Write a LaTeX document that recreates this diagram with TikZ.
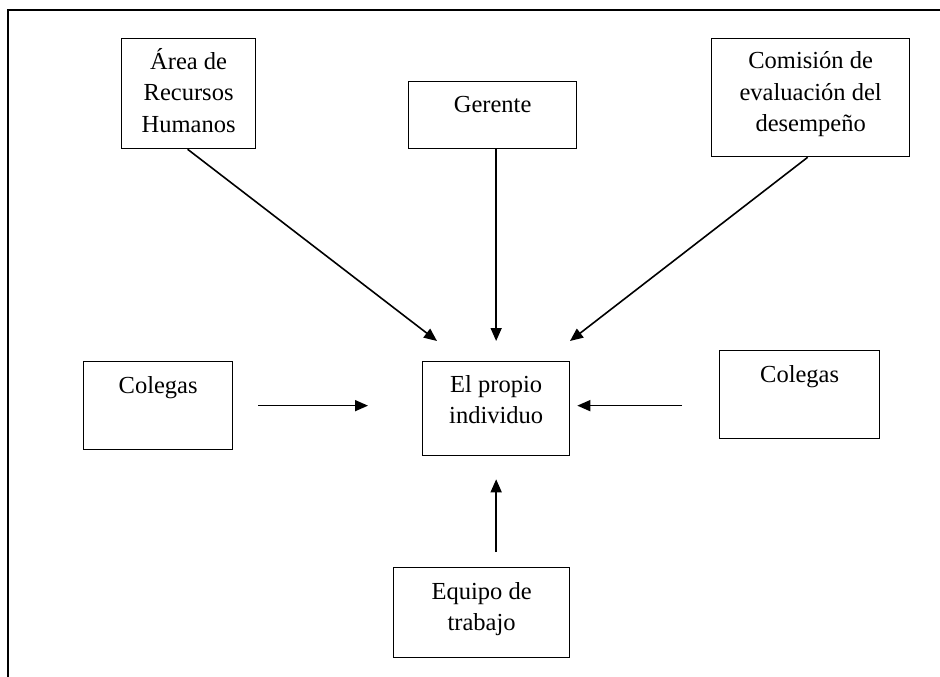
\documentclass[tikz,border=0pt]{standalone}
\usepackage{fontspec}
\setmainfont{Liberation Serif}
\usetikzlibrary{arrows.meta}
\newcommand{\boxtext}[2]{\parbox[t]{#1pt}{\centering\fontsize{24.5}{31.5}\selectfont #2}}
\begin{document}
\begin{tikzpicture}[x=1pt,y=-1pt,
  blk/.style={draw,line width=1.3pt,rectangle,inner sep=0pt,anchor=north west},
  lbl/.style={inner sep=0pt,anchor=base},
  arr/.style={line width=1.6pt,-{Triangle[length=13pt,width=11pt]}}]
\useasboundingbox (0,0) rectangle (940,677);
% outer frame: top and left sides
\draw[line width=1.4pt] (940,10) -- (8,10) -- (8,677);

% boxes (top-left corner, size)
\node[blk,minimum width=134pt,minimum height=110pt] (hr)   at (121,38)  {};
\node[blk,minimum width=168pt,minimum height=67pt]  (ger)  at (408,81)  {};
\node[blk,minimum width=198pt,minimum height=118pt] (com)  at (711,38)  {};
\node[blk,minimum width=147pt,minimum height=94pt]  (self) at (422,361) {};
\node[blk,minimum width=149pt,minimum height=88pt]  (colL) at (83,361)  {};
\node[blk,minimum width=160pt,minimum height=88pt]  (colR) at (719,350) {};
\node[blk,minimum width=176pt,minimum height=90pt]  (team) at (393,567) {};

% box texts, first baseline about 31.5pt below the top edge
\node[lbl] at ([yshift=-31.5pt]hr.north)   {\boxtext{134}{Área de\\Recursos\\Humanos}};
\node[lbl] at ([yshift=-31.5pt]ger.north)  {\boxtext{168}{Gerente}};
\node[lbl] at ([yshift=-31pt]com.north)    {\boxtext{198}{Comisión de\\evaluación del\\desempeño}};
\node[lbl] at ([yshift=-31pt]self.north)   {\boxtext{147}{El propio\\individuo}};
\node[lbl] at ([yshift=-32pt]colL.north)   {\boxtext{149}{Colegas}};
\node[lbl] at ([yshift=-32pt]colR.north)   {\boxtext{160}{Colegas}};
\node[lbl] at ([yshift=-32pt]team.north)   {\boxtext{176}{Equipo de\\trabajo}};

% arrow tips of the diagonal connectors
\coordinate (tipA) at (437,341);
\coordinate (tipC) at (570,341);

% connectors
\draw[arr] ([xshift=-1pt]hr.south) -- (tipA);
\draw[arr,shorten >=20pt] (ger.south -| self.center) -- (self.north);
\draw[arr] ([xshift=-3pt]com.south) -- (tipC);
\draw[arr,shorten <=25pt,shorten >=54pt] (colL.east) -- (colL.east -| self.west);
\draw[arr,shorten <=37pt,shorten >=7pt] (colR.west |- colL.east) -- (colL.east -| self.east);
\draw[arr,shorten <=15pt,shorten >=23pt] (team.north -| self.center) -- (self.south);
\end{tikzpicture}
\end{document}
